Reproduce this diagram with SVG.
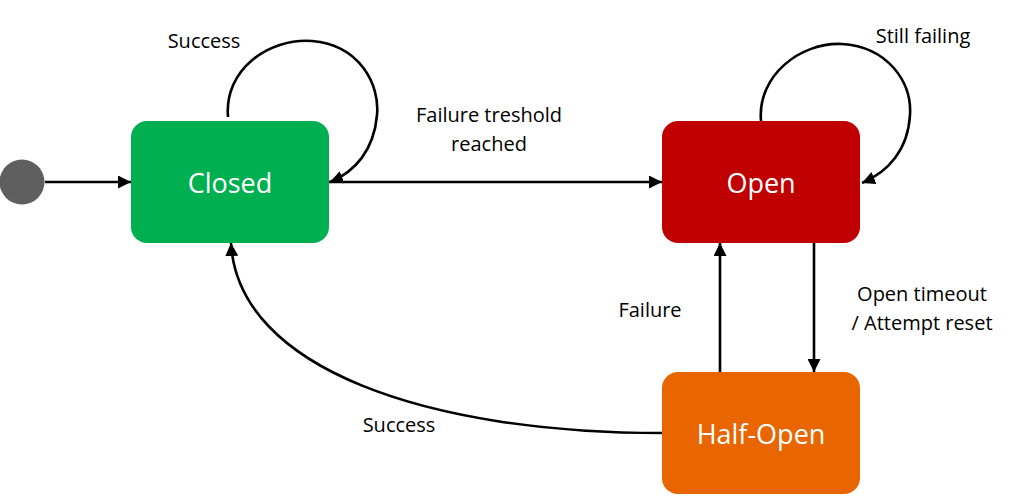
<svg xmlns="http://www.w3.org/2000/svg" width="1010" height="498" viewBox="0 0 1010 498">
<defs>
<marker id="ah" viewBox="0 0 10 10" refX="10" refY="5" markerWidth="5" markerHeight="5" orient="auto" markerUnits="strokeWidth">
<path d="M0,0 L10,5 L0,10 z" fill="#000"/>
</marker>
<style>
.state{stroke:none}
.st{font-family:"Open Sans","Noto Sans",sans-serif;font-size:27px;fill:#fff;text-anchor:middle}
.lb{font-family:"Open Sans","Noto Sans",sans-serif;font-size:20px;fill:#000;text-anchor:middle}
.cn{fill:none;stroke:#000;stroke-width:2.6;marker-end:url(#ah)}
</style>
</defs>
<rect width="1010" height="498" fill="#fff"/>
<g id="initial"><circle cx="22" cy="182" r="22.5" fill="#5f5f5f"/></g>
<g id="closed"><rect class="state" x="131" y="121" width="198" height="122" rx="16" fill="#00b050"/><text class="st" x="230" y="193">Closed</text></g>
<g id="open"><rect class="state" x="662" y="121" width="198" height="122" rx="16" fill="#c00000"/><text class="st" x="761" y="193">Open</text></g>
<g id="halfopen"><rect class="state" x="662" y="372" width="198" height="122" rx="16" fill="#e96500"/><text class="st" x="761" y="444">Half-Open</text></g>
<g id="connectors">
<path class="cn" d="M45,182 L131,182"/>
<path class="cn" d="M329,182 L662,182"/>
<path class="cn" d="M228,117 C224,70 268,38 312,41 C360,45 380,85 377,115 C374,150 355,172 330,182"/>
<path class="cn" d="M761,121 C757,76 800,42 842,44 C888,47 912,82 910,115 C908,150 888,172 862,183"/>
<path class="cn" d="M720,372 L720,243"/>
<path class="cn" d="M814,243 L814,372"/>
<path class="cn" d="M662,433 C430,433 238,370 231,243"/>
</g>
<g id="labels">
<text class="lb" x="204" y="48">Success</text>
<text class="lb" x="489" y="122">Failure treshold</text>
<text class="lb" x="489" y="151">reached</text>
<text class="lb" x="923" y="43">Still failing</text>
<text class="lb" x="922" y="301">Open timeout</text>
<text class="lb" x="922" y="330">/ Attempt reset</text>
<text class="lb" x="650" y="317">Failure</text>
<text class="lb" x="399" y="432">Success</text>
</g>
</svg>
